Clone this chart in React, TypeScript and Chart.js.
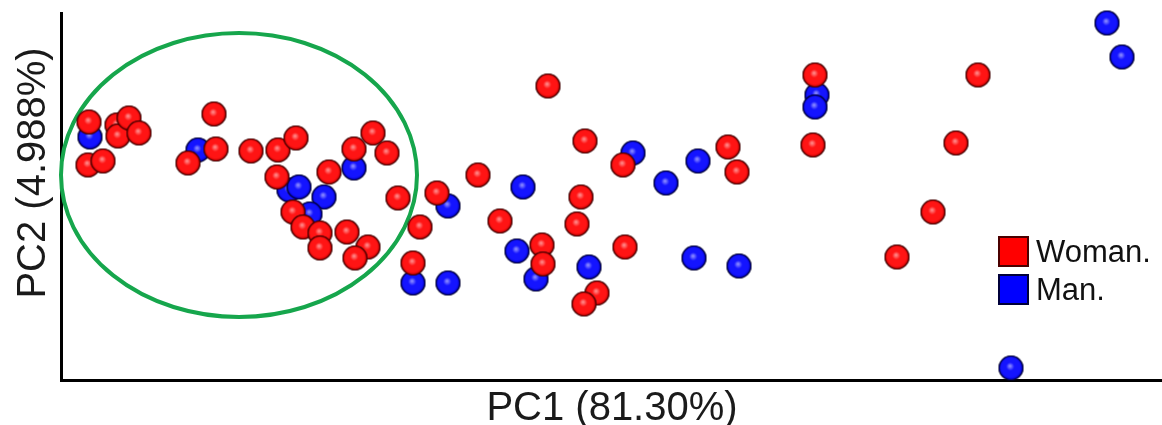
import { useEffect, useRef } from "react";
import { Chart, registerables } from "chart.js";

Chart.register(...registerables);

// PCA scores (PC1, PC2) for each sample group
const pc1Woman = [
  -17.2, -17.3, -15.8, -14.4, -14.3, -13.2, -12.2, -4.7, -4.5, -7.3,
  -1.0, 1.7, 3.5, 1.6, 6.8, 9.3, 11.2, 12.6, 13.7, 3.2,
  4.2, 5.9, 5.9, 8.6, 10.7, 9.4, 21.7, 17.6, 15.9, 15.2,
  23.9, 28.1, 28.2, 28.7, 32.4, 32.0, 31.6, 33.6, 32.3, 36.4,
  36.2, 46.7, 47.6, 55.4, 55.2, 71.7, 69.5, 67.2, 63.6,
];
const pc2Woman = [
  5.8, 1.5, 1.9, 5.5, 4.4, 6.2, 4.7, 6.6, 3.1, 1.7,
  2.9, 3.0, 4.2, 0.3, 0.8, 3.1, 4.7, 2.7, -1.8, -3.2,
  -4.7, -5.3, -6.8, -5.2, -6.7, -7.8, 0.5, -1.3, -4.7, -8.3,
  -4.1, -6.5, -8.4, 9.4, 3.9, -1.7, -4.4, -11.3, -12.4, -6.7,
  1.5, 3.3, 0.8, 10.5, 3.5, 10.5, 3.7, -3.2, -7.7,
];
const pc1Man = [
  -17.1, -6.3, 2.8, 3.8, 6.3, 9.3, 4.9, 18.7, 15.2, 18.7,
  26.2, 25.6, 27.5, 32.8, 37.2, 40.5, 43.7, 43.3, 47.8, 55.6,
  55.4, 84.6, 86.1, 75.0,
];
const pc2Man = [
  4.3, 3.0, -1.0, -0.7, -1.7, 1.2, -3.4, -2.6, -10.3, -10.3,
  -0.7, -7.1, -9.9, -8.7, 2.7, -0.3, 1.9, -7.8, -8.6, 8.5,
  7.3, 15.7, 12.3, -18.8,
];

const groupLabels = ["Woman.", "Man."];
const xTitle = "PC1 (81.30%)";
const yTitle = "PC2 (4.988%)";

// Highlighted cluster outline, in score units: centre and semi-axes
const clusterCenter = [-2.2, 0.5];
const clusterRadii = [17.8, 14.2];

const FONT = '"Liberation Sans", Arial, sans-serif';

function makeBall(hi: string, body: string, edge: string, rim: string) {
  const r = 12.5;
  const size = 27;
  const c = document.createElement("canvas");
  c.width = size;
  c.height = size;
  const g = c.getContext("2d")!;
  const cx = size / 2;
  const cy = size / 2;
  const grad = g.createRadialGradient(cx - 1, cy - 2, 0.5, cx, cy, r);
  grad.addColorStop(0, hi);
  grad.addColorStop(0.3, body);
  grad.addColorStop(0.76, body);
  grad.addColorStop(0.94, edge);
  grad.addColorStop(1, rim);
  g.fillStyle = grad;
  g.beginPath();
  g.arc(cx, cy, r, 0, Math.PI * 2);
  g.fill();
  g.lineWidth = 1.1;
  g.strokeStyle = rim;
  g.beginPath();
  g.arc(cx, cy, r - 0.55, 0, Math.PI * 2);
  g.stroke();
  return c;
}

// Strip any reserved space from an axis that shows only its line
function zeroFit(scale: any) {
  if (scale.isHorizontal()) scale.height = 0;
  else scale.width = 0;
  scale.paddingLeft = 0;
  scale.paddingRight = 0;
  scale.paddingTop = 0;
  scale.paddingBottom = 0;
}

export default function App() {
  const ref = useRef<HTMLCanvasElement | null>(null);

  useEffect(() => {
    if (!ref.current) return;
    const redBall = makeBall("#ff8a8a", "#ff1414", "#c00000", "#3a0000");
    const blueBall = makeBall("#8a8aff", "#1414ff", "#0000c0", "#00002e");

    const toPoints = (xs: number[], ys: number[]) =>
      xs.map((x, i) => ({ x, y: ys[i] }));

    const overlay = {
      id: "overlay",
      beforeDatasetsDraw(chart: any) {
        const { ctx, scales } = chart;
        const xs = scales.x;
        const ys = scales.y;
        const cx = xs.getPixelForValue(clusterCenter[0]);
        const cy = ys.getPixelForValue(clusterCenter[1]);
        const rx = Math.abs(xs.getPixelForValue(clusterCenter[0] + clusterRadii[0]) - cx);
        const ry = Math.abs(ys.getPixelForValue(clusterCenter[1] + clusterRadii[1]) - cy);
        ctx.save();
        ctx.strokeStyle = "#16a64c";
        ctx.lineWidth = 4;
        ctx.beginPath();
        ctx.ellipse(cx, cy, rx, ry, 0, 0, Math.PI * 2);
        ctx.stroke();
        ctx.restore();
      },
      afterDraw(chart: any) {
        const { ctx } = chart;
        ctx.save();
        ctx.fillStyle = "#1a1a1a";
        ctx.font = `40px ${FONT}`;
        ctx.textAlign = "center";
        ctx.textBaseline = "alphabetic";
        ctx.fillText(xTitle, 612, 420);

        ctx.save();
        ctx.translate(45, 173);
        ctx.rotate(-Math.PI / 2);
        ctx.fillText(yTitle, 0, 0);
        ctx.restore();

        // legend
        const fills = ["#ff0000", "#0000ff"];
        const rims = ["#4a0000", "#00003a"];
        const boxX = 999;
        const boxTop = [237, 275];
        ctx.font = `31px ${FONT}`;
        ctx.textAlign = "left";
        ctx.textBaseline = "middle";
        groupLabels.forEach((label, i) => {
          ctx.fillStyle = fills[i];
          ctx.fillRect(boxX, boxTop[i], 29, 29);
          ctx.strokeStyle = rims[i];
          ctx.lineWidth = 2;
          ctx.strokeRect(boxX, boxTop[i], 29, 29);
          ctx.fillStyle = "#111";
          ctx.fillText(label, 1036, boxTop[i] + 16);
        });
        ctx.restore();
      },
    };

    const chart = new Chart(ref.current, {
      type: "scatter",
      data: {
        datasets: [
          {
            label: groupLabels[0],
            data: toPoints(pc1Woman, pc2Woman),
            pointStyle: redBall as any,
            clip: false as any,
          },
          {
            label: groupLabels[1],
            data: toPoints(pc1Man, pc2Man),
            pointStyle: blueBall as any,
            clip: false as any,
          },
        ],
      },
      options: {
        animation: false,
        responsive: true,
        maintainAspectRatio: false,
        events: [],
        layout: {
          autoPadding: false,
          padding: { left: 61, top: 13, right: 0, bottom: 45 },
        },
        plugins: {
          legend: { display: false },
          tooltip: { enabled: false },
        },
        scales: {
          x: {
            type: "linear",
            min: -20,
            max: 90.1,
            grid: { display: false },
            ticks: { display: false },
            border: { display: true, color: "#000", width: 3 },
            afterFit: zeroFit,
          },
          y: {
            type: "linear",
            min: -20,
            max: 16.7,
            grid: { display: false },
            ticks: { display: false },
            border: { display: true, color: "#000", width: 3 },
            afterFit: zeroFit,
          },
        },
      },
      plugins: [overlay],
    });
    return () => chart.destroy();
  }, []);

  return (
    <div
      style={{
        position: "absolute",
        left: 0,
        top: 0,
        width: 1162,
        height: 425,
        overflow: "hidden",
        background: "#fff",
      }}
    >
      <canvas ref={ref} style={{ display: "block" }} />
    </div>
  );
}
